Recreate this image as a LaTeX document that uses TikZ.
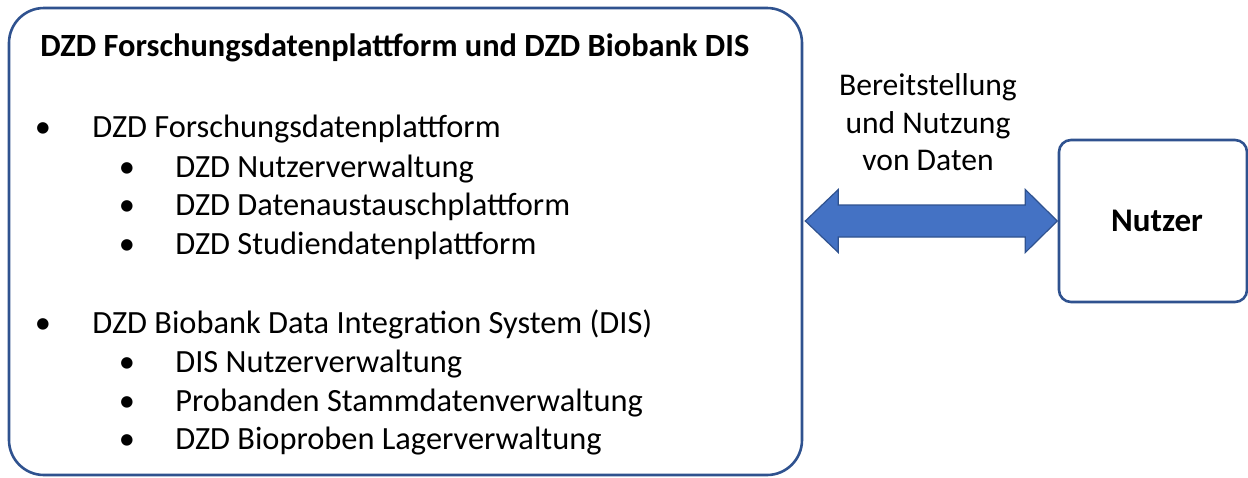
\documentclass[tikz,border=0pt]{standalone}
\usepackage{fontspec}
\setmainfont{Carlito}
\usetikzlibrary{calc}
\definecolor{randblau}{RGB}{47,82,143}
\definecolor{pfeilblau}{RGB}{68,114,196}

\begin{document}
\begin{tikzpicture}[x=0.5pt,y=-0.5pt,
  kasten/.style={draw=randblau,line width=1.3pt,inner sep=0pt},
  txt/.style={anchor=base west,inner sep=0pt,font=\fontsize{16.2}{19}\selectfont},
  punkt/.style={anchor=base,inner sep=0pt,font=\fontsize{16.2}{19}\selectfont},
  zent/.style={anchor=base,inner sep=0pt,font=\fontsize{15.8}{19}\selectfont},
  pfeil/.style={fill=pfeilblau,draw=randblau,line width=0.6pt,line join=miter}]

\useasboundingbox (0,0) rectangle (1248,477);

% Boxes
\node[kasten,rounded corners=17.5pt,minimum width=396.5pt,minimum height=233.5pt] (dzd) at (405.5,241.5) {};
\node[kasten,rounded corners=6pt,minimum width=94pt,minimum height=81pt,font=\fontsize{16.5}{19}\selectfont\bfseries] (nutzer) at (1153,221) {\hspace*{4pt}Nutzer};

% Title
\node[txt,font=\fontsize{16.2}{19}\selectfont\bfseries] (titel) at (40,56.7) {DZD Forschungsdatenplattform und DZD Biobank DIS};

% Forschungsdatenplattform
\node[punkt] (p1) at (43,137) {•};
\node[txt] (t1) at (92,137) {DZD Forschungsdatenplattform};
\node[punkt] (p2) at (127,177) {•};
\node[txt] (t2) at (175,177) {DZD Nutzerverwaltung};
\node[punkt] (p3) at (127,215) {•};
\node[txt] (t3) at (175,215) {DZD Datenaustauschplattform};
\node[punkt] (p4) at (127,254) {•};
\node[txt] (t4) at (175,254) {DZD Studiendatenplattform};

% Biobank DIS
\node[punkt] (p5) at (43,333) {•};
\node[txt] (t5) at (92,333) {DZD Biobank Data Integration System (DIS)};
\node[punkt] (p6) at (127,372) {•};
\node[txt] (t6) at (175,372) {DIS Nutzerverwaltung};
\node[punkt] (p7) at (127,411) {•};
\node[txt] (t7) at (175,411) {Probanden Stammdatenverwaltung};
\node[punkt] (p8) at (127,449.5) {•};
\node[txt] (t8) at (175,449.5) {DZD Bioproben Lagerverwaltung};

% Arrow label
\node[zent] (l1) at (928,95) {Bereitstellung};
\node[zent] (l2) at (928,133) {und Nutzung};
\node[zent] (l3) at (928,170) {von Daten};

% Double arrow
\draw[pfeil] ([xshift=1pt]dzd.east |- nutzer.west) -- ++(33,-31.5) -- ++(0,15.5) -- ++(187,0) -- ++(0,-15.5)
  -- ++(32,31.5) -- ++(-32,31.5) -- ++(0,-15.5) -- ++(-187,0) -- ++(0,15.5) -- cycle;

\end{tikzpicture}
\end{document}
